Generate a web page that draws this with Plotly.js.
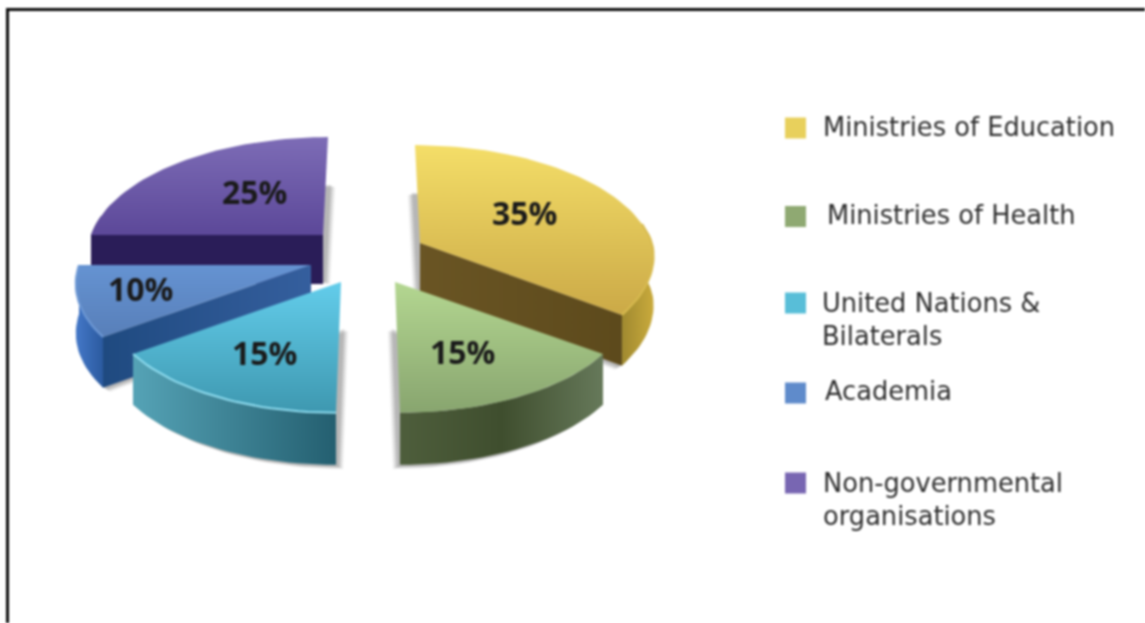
<!DOCTYPE html>
<html>
<head>
<meta charset="utf-8">
<script src="https://cdn.plot.ly/plotly-3.0.1.min.js"></script>
<style>
html,body{margin:0;padding:0;background:#fff;overflow:hidden}
#chart{width:1145px;height:623px;filter:blur(0.8px)}
</style>
</head>
<body>
<div id="chart"></div>
<script>
// ---- data ----
const categories = ["Ministries of Education","Ministries of Health","United Nations &<br>Bilaterals","Academia","Non-governmental<br>organisations"];
const shares = [35,15,15,10,25];

// ---- style ----
const swatchColors = ["#e8d05c","#8fa972","#58bed8","#5f8bcb","#7866b2"];
// vertical fills run from the bottom of a face to its top on this reversed axis
const topColors = [["#cba947","#f4de68"],["#88a56f","#b4d791"],["#3e98b0","#63cdeb"],["#587fb9","#6593d2"],["#5c4899","#7d6cb6"]];
const wallColors = [["#a08a30","#c9aa3c"],["#4e5e3c","#3f4e2e","#66795a"],["#55a3b6","#245f70"],["#4478c8","#2b5a9f"],["#2b1e5a","#2b1e5a"]];
const cutColors = [["#6a5524","#5d4a1c"],["#445533","#445533"],["#2d6a80","#2d6a80"],["#1f4a80","#355f9e"],["#2a1d58","#2a1d58"]];
const rimColors = ["#d8bb50",null,"#8fdcef","#6f9ad6",null];

// ---- layout of the exploded, perspective pie ----
const centers = [[420,243],[395,282],[341,282],[311,265],[323,235]];
const leans = [-5,-5,5,5,5];
const tapers = [0.05,0,0,0,0];
const depth = 49, A = 232, B = 112, K = 0.144;
const labelPos = [[524,212],[462,351],[264,352],[140,288],[254,191]];
const swatchX = 795.5;
const swatchY = [128,216.5,303,393,483];
const legendX = [821,825,820,823,821];
const legendY = [127,215,319,391,499];

function pt(i,deg,dy){
  const t = deg*Math.PI/180, X = Math.sin(t), Z = Math.cos(t), d = 1+K*Z;
  const taper = Z<0 ? 1+tapers[i]*Z : 1;
  return [centers[i][0]+A*X/d*taper+leans[i]*Z, centers[i][1]-B*Z/d+dy*(1-0.06*Z)];
}
function arc(i,a,b,dy){
  const out=[], n=Math.max(2,Math.ceil(Math.abs(b-a)/2));
  for(let j=0;j<=n;j++) out.push(pt(i,a+(b-a)*j/n,dy));
  return out;
}
function poly(points,extra){
  return Object.assign({
    x:points.map(p=>p[0]), y:points.map(p=>p[1]),
    type:"scatter", mode:"lines", fill:"toself", line:{width:0},
    hoverinfo:"skip", showlegend:false
  },extra);
}
function grad(type,c){return {type:type,colorscale:c.map((col,j)=>[j/(c.length-1),col])};}

let cum=0;
const spans = shares.map(v=>{const a=cum*3.6; cum+=v; return [a,cum*3.6];});
const traces=[];
const drawOrder=[4,0,3,1,2];
drawOrder.forEach(i=>{
  const [a,b]=spans[i];
  const apexTop=[centers[i][0],centers[i][1]];
  const apexBot=[centers[i][0],centers[i][1]+depth];
  const dir=leans[i]<0?-1:1;
  // soft drop shadow of the base
  [[7,4,0.10],[5,3,0.14],[3,2,0.18]].forEach(s=>{
    const pts=[[apexBot[0]+dir*s[0],apexBot[1]+s[1]-4]].concat(arc(i,a,b,depth+s[1]).map(p=>[p[0]+dir*s[0],p[1]]));
    traces.push(poly(pts,{fillcolor:"rgba(60,60,60,"+s[2]+")"}));
  });
  // outer wall: only the part of the rim that faces the viewer
  const wa=Math.max(a,80), wb=Math.min(b,280);
  const up=arc(i,wa,wb,0), lo=arc(i,wa,wb,depth).reverse();
  traces.push(poly(up.concat(lo),{fillgradient:grad("horizontal",wallColors[i])}));
  // visible cut walls
  const r=d=>Math.sin(d*Math.PI/180);
  if(r(b)>1e-6){
    const e=pt(i,b,0), f=pt(i,b,depth);
    traces.push(poly([apexTop,e,f,apexBot],{fillgradient:grad("horizontal",cutColors[i])}));
  }
  if(r(a)<-1e-6){
    const e=pt(i,a,0), f=pt(i,a,depth);
    traces.push(poly([apexTop,e,f,apexBot],{fillgradient:grad("horizontal",cutColors[i])}));
  }
  // top face
  traces.push(poly([apexTop].concat(arc(i,a,b,0)),{name:categories[i],fillgradient:grad("vertical",topColors[i])}));
  // light rim on the front edge
  if(rimColors[i]){
    const rim=arc(i,wa,wb,0);
    traces.push({x:rim.map(p=>p[0]),y:rim.map(p=>p[1]),type:"scatter",mode:"lines",
      line:{color:rimColors[i],width:2},hoverinfo:"skip",showlegend:false});
  }
});

// legend swatches
traces.push({x:swatchY.map(()=>swatchX),y:swatchY,type:"scatter",mode:"markers",
  marker:{symbol:"square",size:21,color:swatchColors,line:{width:0}},
  text:categories,hoverinfo:"text",showlegend:false});

const annotations=[];
shares.forEach((v,i)=>annotations.push({x:labelPos[i][0],y:labelPos[i][1],xref:"x",yref:"y",
  text:v+"%",showarrow:false,xanchor:"center",yanchor:"middle",
  font:{family:"Open Sans",size:32,color:"#1a1a1a",weight:700}}));
categories.forEach((c,i)=>annotations.push({x:legendX[i],y:legendY[i],xref:"x",yref:"y",
  text:c,showarrow:false,xanchor:"left",yanchor:"middle",align:"left",
  font:{family:"DejaVu Sans",size:25.7,color:"#2e2e2e"}}));

const layout={
  width:1145,height:623,margin:{l:0,r:0,t:0,b:0},
  paper_bgcolor:"#fff",plot_bgcolor:"#fff",showlegend:false,
  xaxis:{range:[0,1145],visible:false,fixedrange:true},
  yaxis:{range:[623,0],visible:false,fixedrange:true},
  shapes:[{type:"path",path:"M7.5,623 L7.5,9.5 L1145,9.5",xref:"x",yref:"y",line:{color:"#0c0c0c",width:3}}],
  annotations:annotations
};
Plotly.newPlot("chart",traces,layout,{displayModeBar:false,staticPlot:true});
</script>
</body>
</html>
